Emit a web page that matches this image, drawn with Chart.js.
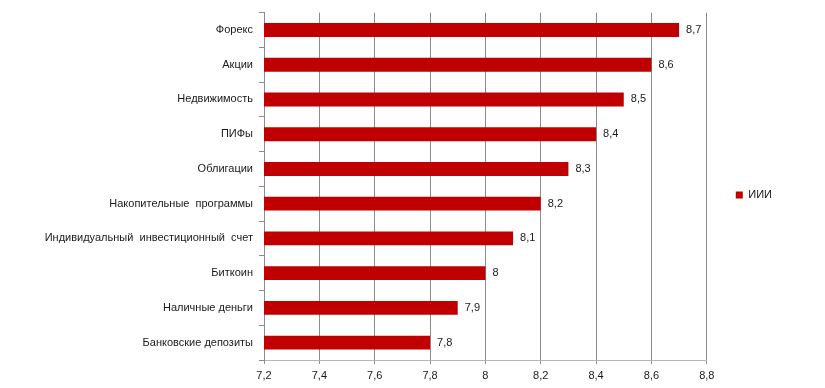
<!DOCTYPE html>
<html lang="ru">
<head>
  <meta charset="UTF-8" />
  <title>ИИИ</title>
  <script src="https://cdn.jsdelivr.net/npm/chart.js"></script>
  <style>
    html, body { margin: 0; padding: 0; background: #fff; }
    #wrap { width: 825px; height: 388px; }
  </style>
</head>
<body>
  <div id="wrap"><canvas id="barChart"></canvas></div>

  <script>
    // Данные
    const categories = [
      'Форекс',
      'Акции',
      'Недвижимость',
      'ПИФы',
      'Облигации',
      'Накопительные  программы',
      'Индивидуальный  инвестиционный  счет',
      'Биткоин',
      'Наличные деньги',
      'Банковские депозиты'
    ];
    const values = [8.7, 8.6, 8.5, 8.4, 8.3, 8.2, 8.1, 8, 7.9, 7.8];
    const seriesName = 'ИИИ';
    const axisMin = 7.2;
    const axisMax = 8.8;
    const axisStep = 0.2;

    const fmt = v => String(Math.round(v * 10) / 10).replace('.', ',');
    const font = { family: 'Liberation Sans', size: 11 };

    // подписи значений справа от столбцов
    const valueLabels = {
      id: 'valueLabels',
      afterDatasetsDraw(chart) {
        const ctx = chart.ctx;
        const meta = chart.getDatasetMeta(0);
        ctx.save();
        ctx.font = '11px "Liberation Sans"';
        ctx.fillStyle = '#1a1a1a';
        ctx.textAlign = 'left';
        ctx.textBaseline = 'middle';
        meta.data.forEach((bar, i) => {
          ctx.fillText(fmt(chart.data.datasets[0].data[i]), bar.x + 7, bar.y);
        });
        ctx.restore();
      }
    };

    new Chart(document.getElementById('barChart'), {
      type: 'bar',
      data: {
        labels: categories,
        datasets: [{
          label: seriesName,
          data: values,
          backgroundColor: '#c00000',
          borderWidth: 0,
          categoryPercentage: 0.8,
          barPercentage: 0.5
        }]
      },
      options: {
        indexAxis: 'y',
        responsive: true,
        maintainAspectRatio: false,
        animation: false,
        layout: { padding: { top: 11, right: 43, bottom: 0, left: 0 } },
        scales: {
          x: {
            min: axisMin,
            max: axisMax,
            ticks: {
              stepSize: axisStep,
              color: '#1a1a1a',
              font: font,
              padding: 5,
              callback: v => fmt(v)
            },
            grid: { color: '#8c8c8c', tickLength: 4, drawTicks: true },
            border: { color: '#b5b5b5' },
            afterFit: s => { s.height = 28; }
          },
          y: {
            ticks: { color: '#1a1a1a', font: font, padding: 6 },
            grid: { display: true, drawOnChartArea: false, offset: true, tickLength: 5, color: '#8c8c8c' },
            border: { color: '#8c8c8c' },
            afterFit: s => { s.width = 264; }
          }
        },
        plugins: {
          legend: {
            position: 'right',
            fullSize: false,
            // пустой заголовок только сдвигает элемент легенды вниз
            title: { display: true, text: ' ', font: font, padding: 2 },
            labels: {
              boxWidth: 7,
              boxHeight: 7,
              padding: 29,
              color: '#1a1a1a',
              font: font
            }
          },
          tooltip: { enabled: false }
        }
      },
      plugins: [valueLabels]
    });
  </script>
</body>
</html>
